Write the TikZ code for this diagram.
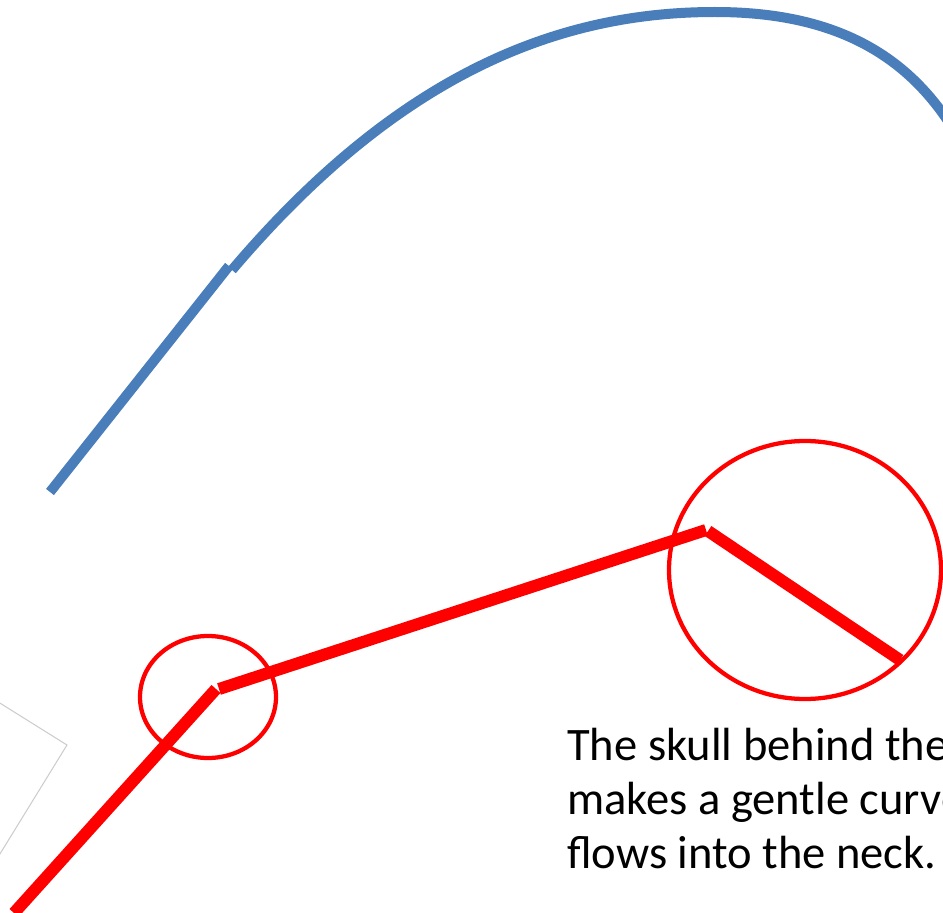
\documentclass[tikz,border=0pt]{standalone}
\usepackage{fontspec}
\setmainfont{Carlito}
\definecolor{curveblue}{RGB}{74,126,187}
\definecolor{markred}{RGB}{255,0,0}
\definecolor{faintgray}{RGB}{205,205,205}
\begin{document}
\begin{tikzpicture}[x=0.75pt,y=-0.75pt,
  bluestroke/.style={draw=curveblue,line width=7.5pt,line cap=butt},
  redstroke/.style={draw=markred,line width=9pt,line cap=butt},
  ringstroke/.style={draw=markred,line width=3.2pt},
  caption/.style={anchor=base west,align=left,inner sep=0pt,font=\fontsize{34.9}{40.5}\selectfont}]
\useasboundingbox (0,0) rectangle (943,913);
% faint gray outline
\draw[faintgray,line width=0.8pt] (-5,700) -- (67,745) -- (-5,862);
% blue curve
\coordinate (b0) at (50,492);
\coordinate (b1) at (229,266);
\coordinate (b2) at (232,270);
\coordinate (bpeak) at (715,12);
\coordinate (bend) at (950,124);
\draw[bluestroke] (b0) -- (b1);
\draw[bluestroke] (b2) .. controls (400,72) and (560,12) .. (bpeak)
  .. controls (835,12) and (905,55) .. (bend);
% red polyline
\coordinate (r0) at (14,913);
\coordinate (r1) at (216,689);
\coordinate (r2) at (219,689);
\coordinate (r3) at (706,530);
\coordinate (r4) at (708,531);
\coordinate (r5) at (900,660);
\draw[redstroke] (r0) -- (r1);
\draw[redstroke] (r2) -- (r3);
\draw[redstroke] (r4) -- (r5);
% circles
\draw[ringstroke] (208,697) ellipse [x radius=68, y radius=61];
\draw[ringstroke] (805,570) ellipse [x radius=136, y radius=129];
% caption (last-line baseline)
\node[caption] (cap) at (567,868) {The skull behind the\\makes a gentle curve\\flows into the neck.};
\end{tikzpicture}
\end{document}
